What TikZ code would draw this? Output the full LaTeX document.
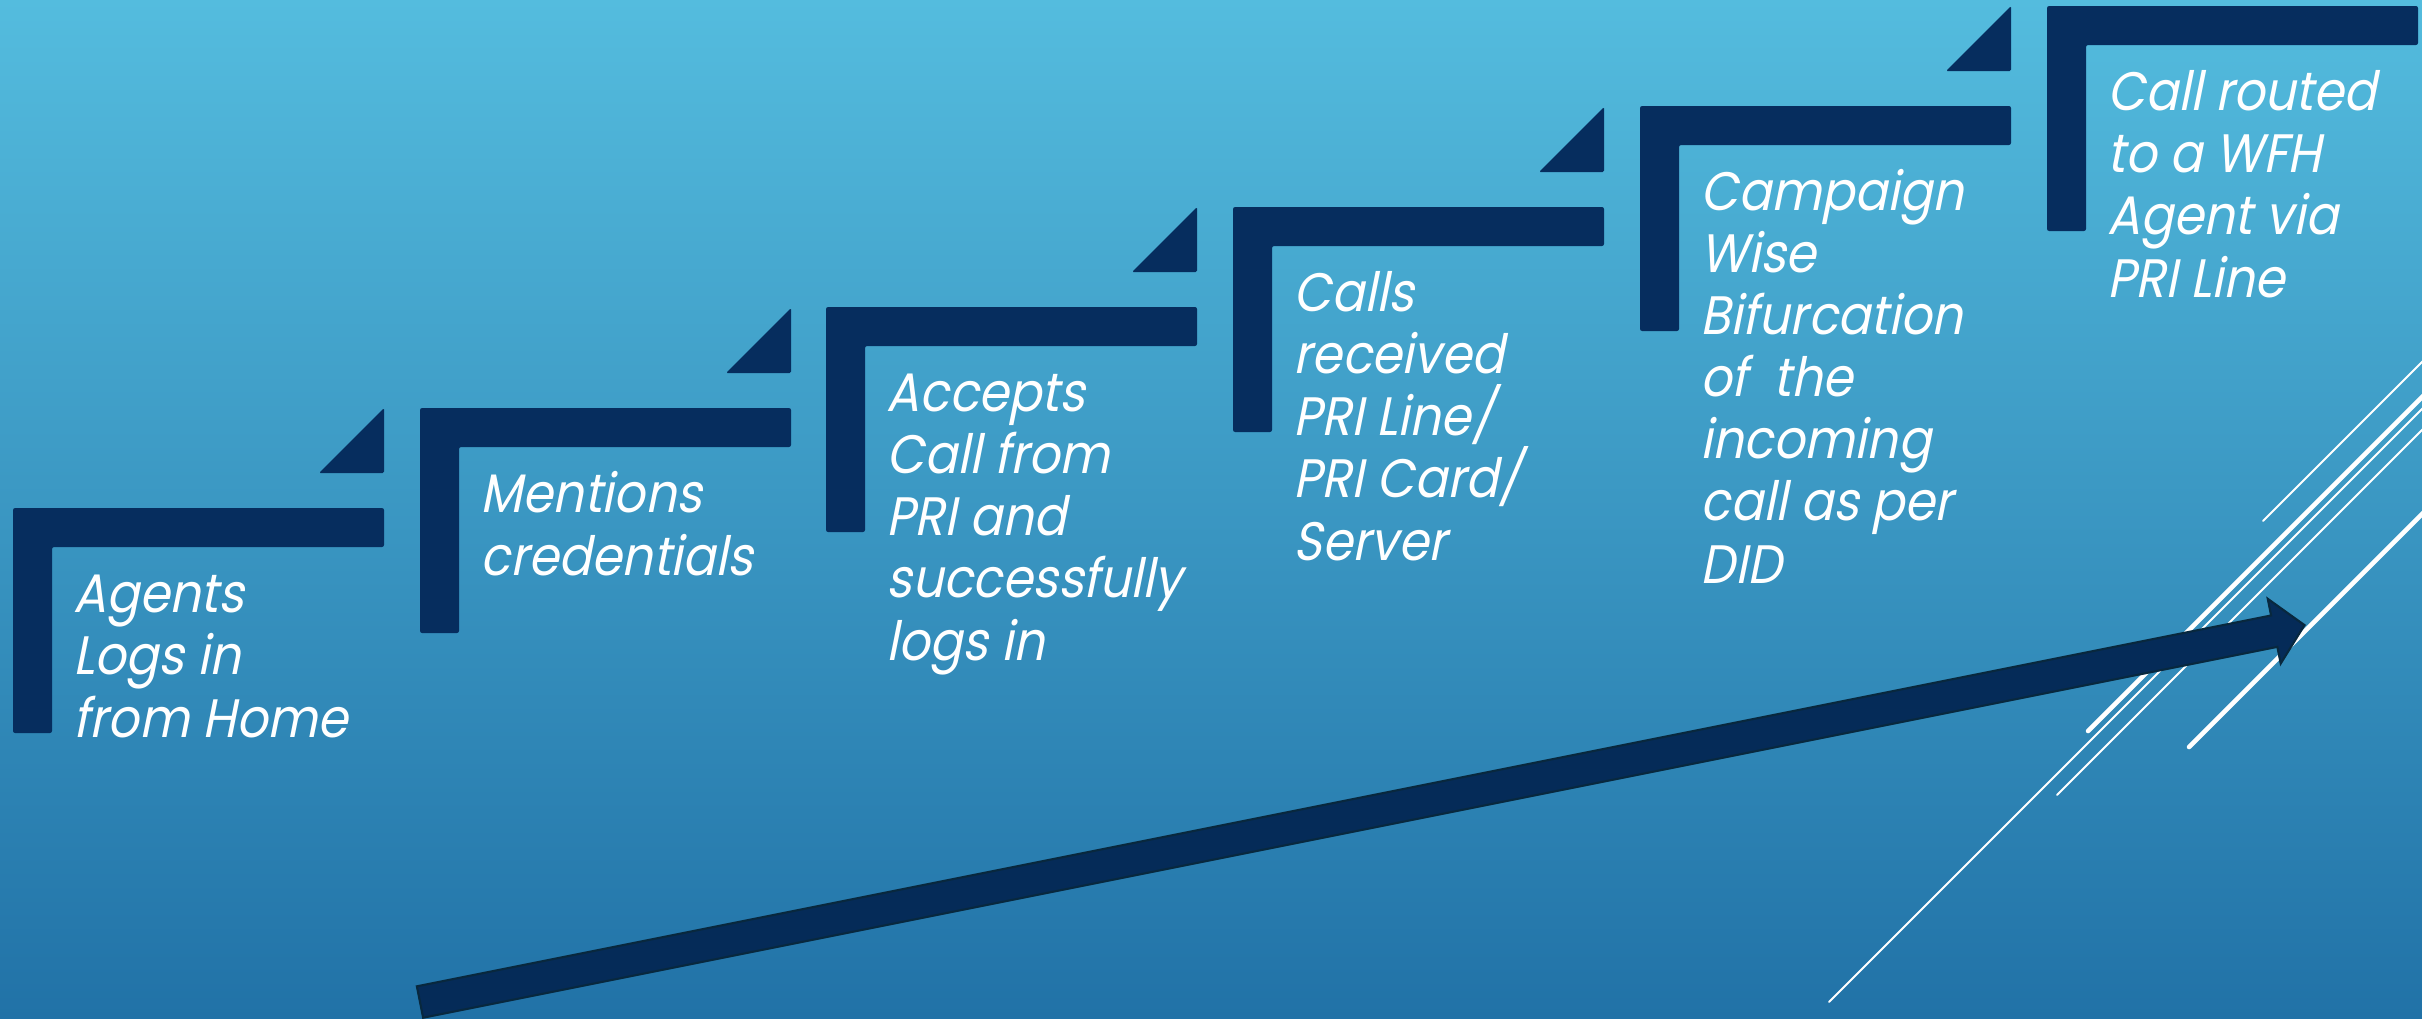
\documentclass[tikz,border=0pt]{standalone}
\usepackage{fontspec}
\newfontfamily\stepfont{Poppins}[FakeSlant=0.2,FakeStretch=0.9]
\definecolor{navy}{RGB}{6,45,94}
\definecolor{arrowfill}{RGB}{5,43,88}
\definecolor{arrowedge}{RGB}{8,40,62}
\definecolor{bgtop}{RGB}{84,188,222}
\definecolor{bgbot}{RGB}{33,114,167}
\tikzset{
  lshape/.style={fill=navy, rounded corners=0.6pt},
  tri/.style={fill=navy, rounded corners=0.4pt},
  steptext/.style={anchor=base west, inner sep=0pt, align=left, text=white,
    font=\stepfont\fontsize{15.4}{17.64}\selectfont},
  bigarrow/.style={fill=arrowfill, draw=arrowedge, line width=0.6pt, line join=miter},
  wthick/.style={draw=white, line width=1.3pt, line cap=round},
  wthin/.style={draw=white, line width=0.55pt, line cap=round}
}
\begin{document}
\begin{tikzpicture}[x=0.01cm,y=-0.01cm]
\useasboundingbox (0,0) rectangle (2422,1018);
\clip (0,0) rectangle (2422,1018);
\shade[top color=bgtop, bottom color=bgbot] (0,0) rectangle (2422,1018);

% white decorative lines (background decoration)
\coordinate (a1) at (2263,521); \coordinate (a2) at (2500,284);
\coordinate (b1) at (2088,731); \coordinate (b2) at (2500,319);
\coordinate (c1) at (1829,1002); \coordinate (c2) at (2500,331);
\coordinate (d1) at (2057,795); \coordinate (d2) at (2500,352);
\coordinate (e1) at (2189,747); \coordinate (e2) at (2500,436);
\draw[wthin] (a1) -- (a2);
\draw[wthick] (b1) -- (b2);
\draw[wthin] (c1) -- (c2);
\draw[wthin] (d1) -- (d2);
\draw[wthick] (e1) -- (e2);

% steps: L shapes
\foreach \x/\y/\tr in {13/508/1, 420/408/1, 826/307/1, 1233/207/1, 1640/106/1, 2047/6/0}{
  \path[lshape] (\x,\y) -- ++(371,0) -- ++(0,39) -- ++(-332,0) -- ++(0,186) -- ++(-39,0) -- cycle;
  \ifnum\tr=1
    \path[tri] (\x+306,\y-35) -- (\x+371,\y-35) -- (\x+371,\y-100) -- cycle;
  \fi
}

% texts (anchored at the baseline of the last line)
\node[steptext] (t1) at (73,737) {Agents\\Logs in\\from Home};
\node[steptext] (t2) at (480,575) {Mentions\\credentials};
\node[steptext] (t3) at (886,660) {Accepts\\Call from\\PRI and\\successfully\\logs in};
\node[steptext] (t4) at (1293,560) {Calls\\received\\PRI Line/\\PRI Card/\\Server};
\node[steptext] (t5) at (1700,583) {Campaign\\Wise\\Bifurcation\\of~~the\\incoming\\call as per\\DID};
\node[steptext] (t6) at (2107,297) {Call routed\\to a WFH\\Agent via\\PRI Line};

% big arrow
\begin{scope}[shift={(420,1002)}, rotate=11.31]
  \coordinate (tail) at (0,0);
  \coordinate (tip) at (1922,0);
  \draw[bigarrow] (0,-16) -- (1891,-16) -- (1891,-33) -- (tip) -- (1891,33) -- (1891,16) -- (0,16) -- cycle;
\end{scope}
\end{tikzpicture}
\end{document}
